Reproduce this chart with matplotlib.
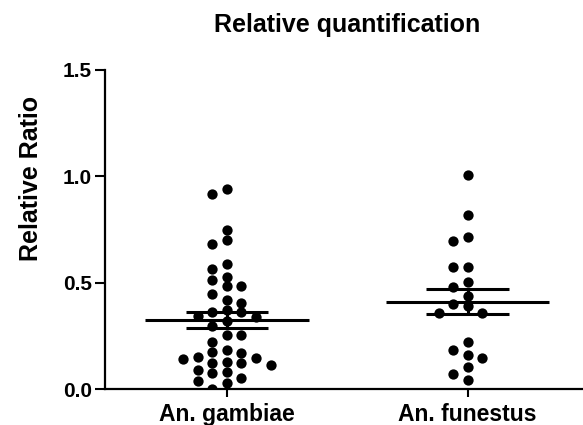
import numpy as np
import matplotlib
matplotlib.use("Agg")
import matplotlib.pyplot as plt

plt.rcParams["font.family"] = ["Liberation Sans", "DejaVu Sans"]
plt.rcParams["font.weight"] = "bold"

groups = ["An. gambiae", "An. funestus"]

gambiae = [0.94, 0.915, 0.747, 0.70, 0.68, 0.59, 0.565, 0.527, 0.514, 0.483,
           0.486, 0.448, 0.417, 0.404, 0.36, 0.37, 0.36, 0.338, 0.341, 0.318,
           0.294, 0.255, 0.255, 0.223, 0.184, 0.176, 0.168, 0.145, 0.152, 0.129,
           0.121, 0.113, 0.121, 0.14, 0.09, 0.082, 0.074, 0.05, 0.039, 0.03, 0.0]
funestus = [1.005, 0.816, 0.714, 0.695, 0.574, 0.574, 0.501, 0.478, 0.435, 0.40,
            0.388, 0.357, 0.357, 0.223, 0.184, 0.16, 0.145, 0.105, 0.069, 0.042]

y_ticks = [0.0, 0.5, 1.0, 1.5]


def swarm(values, step, min_dy):
    # simple column swarm: same column points must be min_dy apart
    placed = []
    offsets = np.zeros(len(values))
    order = np.argsort(values)[::-1]
    for i in order:
        v = values[i]
        k = 0
        for slot in [0, -1, 1, -2, 2, -3, 3, -4, 4, -5, 5]:
            if all(not (s == slot and abs(pv - v) < min_dy) for s, pv in placed):
                k = slot
                break
        placed.append((k, v))
        offsets[i] = k * step
    return offsets


fig = plt.figure(figsize=(5.83, 4.25), dpi=100)
ax = fig.add_axes([0.18, 0.0847, 0.82, 0.7506])

for xi, data in enumerate([gambiae, funestus]):
    vals = np.array(data)
    xs = xi + swarm(vals, 0.0603, 0.044)
    ax.scatter(xs, vals, s=55, color="black", zorder=3, linewidths=0)
    m = vals.mean()
    sem = vals.std(ddof=1) / np.sqrt(len(vals))
    ax.hlines(m, xi - 0.339, xi + 0.339, color="black", lw=2.2, zorder=4)
    ax.hlines([m - sem, m + sem], xi - 0.172, xi + 0.172, color="black", lw=2.2, zorder=4)
    ax.vlines(xi, m - sem, m + sem, color="black", lw=2.2, zorder=4)

ax.set_xlim(-0.507, 1.479)
ax.set_ylim(0, 1.5)
ax.set_xticks([0, 1])
ax.set_xticklabels(groups, fontsize=16.5, fontweight="bold")
ax.set_yticks(y_ticks)
ax.set_yticklabels([f"{t:.1f}" for t in y_ticks], fontsize=15, fontweight="bold")
ax.tick_params(axis="both", width=1.5, color="black")
ax.tick_params(axis="x", length=6, pad=4)
ax.tick_params(axis="y", length=7.5, pad=2)
for side in ["top", "right"]:
    ax.spines[side].set_visible(False)
for side in ["left", "bottom"]:
    ax.spines[side].set_linewidth(1.6)

fig.text(31 / 583, 1 - 178 / 425, "Relative Ratio", rotation=90, ha="center", va="center",
         fontsize=18, fontweight="bold")
fig.text(347.5 / 583, 1 - 25 / 425, "Relative quantification", ha="center", va="center",
         fontsize=18, fontweight="bold")

fig.savefig("out.png", dpi=100)
